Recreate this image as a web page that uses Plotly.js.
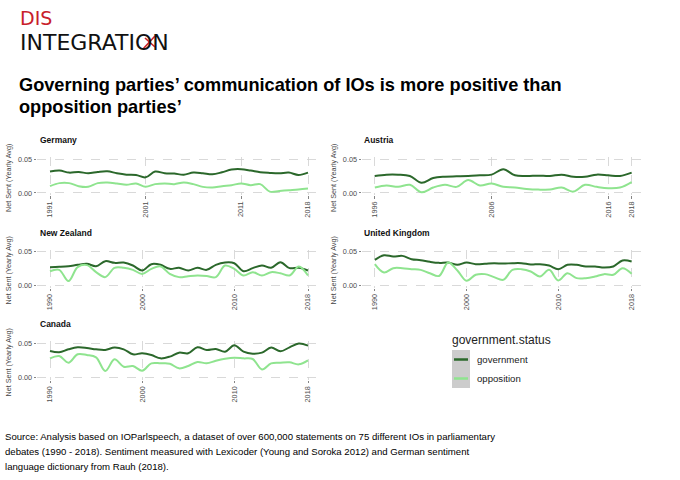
<!DOCTYPE html>
<html>
<head>
<meta charset="utf-8">
<script src="https://cdn.plot.ly/plotly-3.0.1.min.js"></script>
<style>html,body{margin:0;padding:0;background:#fff}#chart{width:680px;height:480px}</style>
</head>
<body>
<div id="chart"></div>
<script>
// ---------- data ----------
const yearsDE = [1991,1992,1993,1994,1995,1996,1997,1998,1999,2000,2001,2002,2003,2004,2005,2006,2007,2008,2009,2010,2011,2012,2013,2014,2015,2016,2017,2018];
const deGov = [0.0315,0.033,0.030,0.031,0.029,0.031,0.032,0.029,0.027,0.0265,0.023,0.0315,0.029,0.0285,0.027,0.030,0.029,0.0275,0.0305,0.0345,0.035,0.033,0.0305,0.0295,0.029,0.030,0.0265,0.030];
const deOpp = [0.010,0.0145,0.0145,0.010,0.009,0.0145,0.0155,0.014,0.012,0.014,0.009,0.013,0.014,0.013,0.0155,0.013,0.009,0.008,0.010,0.0115,0.014,0.0115,0.013,0.002,0.003,0.004,0.005,0.0065];

const yearsAT = [1996,1997,1998,1999,2000,2001,2002,2003,2004,2005,2006,2007,2008,2009,2010,2011,2012,2013,2014,2015,2016,2017,2018];
const atGov = [0.025,0.027,0.027,0.025,0.015,0.022,0.024,0.0245,0.025,0.026,0.027,0.035,0.026,0.025,0.0255,0.025,0.027,0.024,0.024,0.027,0.026,0.025,0.030];
const atOpp = [0.008,0.011,0.009,0.012,0.001,0.008,0.012,0.009,0.019,0.011,0.014,0.009,0.008,0.006,0.005,0.005,0.008,0.002,0.012,0.009,0.007,0.008,0.016];

const years90 = [1990,1991,1992,1993,1994,1995,1996,1997,1998,1999,2000,2001,2002,2003,2004,2005,2006,2007,2008,2009,2010,2011,2012,2013,2014,2015,2016,2017,2018];
const nzGov = [0.027,0.0275,0.0284,0.0304,0.0319,0.0284,0.0358,0.0333,0.0338,0.0294,0.022,0.0314,0.0304,0.0245,0.026,0.022,0.026,0.023,0.0304,0.0338,0.0328,0.021,0.0255,0.0294,0.026,0.0343,0.0255,0.026,0.022];
const nzOpp = [0.021,0.023,0.0064,0.027,0.030,0.0196,0.0123,0.026,0.026,0.023,0.017,0.0245,0.028,0.017,0.0123,0.0137,0.0147,0.014,0.0123,0.0294,0.0245,0.0147,0.0196,0.0147,0.0196,0.018,0.0147,0.028,0.0147];

const ukGov = [0.0377,0.0446,0.0426,0.0436,0.0387,0.0372,0.0348,0.0333,0.0338,0.0304,0.0338,0.0314,0.0319,0.0328,0.0323,0.0328,0.0328,0.0309,0.0314,0.0294,0.024,0.0304,0.0304,0.028,0.028,0.0265,0.028,0.0368,0.0353];
const ukOpp = [0.0314,0.019,0.0255,0.0255,0.024,0.023,0.018,0.014,0.0338,0.022,0.0069,0.0157,0.0167,0.0123,0.0083,0.023,0.024,0.0206,0.0132,0.023,0.0074,0.018,0.0108,0.0108,0.0132,0.0167,0.0157,0.0255,0.0172];

const caGov = [0.0388,0.0369,0.0412,0.0441,0.0432,0.0412,0.0403,0.0437,0.0412,0.034,0.0354,0.033,0.0281,0.0306,0.0364,0.0354,0.0441,0.0403,0.0417,0.0378,0.047,0.0378,0.0349,0.0364,0.0437,0.0383,0.0441,0.0495,0.0466];
const caOpp = [0.0281,0.0315,0.0218,0.034,0.033,0.0296,0.0097,0.0267,0.016,0.017,0.0102,0.0209,0.0209,0.0204,0.0136,0.017,0.0228,0.0209,0.0247,0.0276,0.0291,0.0281,0.0272,0.0121,0.0209,0.0218,0.0223,0.0194,0.0252];

const countries = ['Germany','Austria','New Zealand','United Kingdom','Canada'];
const statusLabels = ['government','opposition'];
const yTickVals = [0, 0.05];
const yTickText = ['0.00','0.05'];
const xTicksDE = [1991,2001,2011,2018];
const xTicksAT = [1996,2006,2016,2018];
const xTicks90 = [1990,2000,2010,2018];
const yTitle = 'Net Sent (Yearly Avg)';
const sourceLines = [
  'Source: Analysis based on IOParlspeech, a dataset of over 600,000 statements on 75 different IOs in parliamentary',
  'debates (1990 - 2018). Sentiment measured with Lexicoder (Young and Soroka 2012) and German sentiment',
  'language dictionary from Rauh (2018).'
];

// ---------- styling ----------
const GOV = '#2b682b', OPP = '#8fe48f', RED = '#c8202b';
const FONT = 'Liberation Sans, Arial, sans-serif';
const W = 680, H = 480;
const px = v => v / W, py = v => 1 - v / H;

const panels = [
  {name: countries[0], x: yearsDE, g: deGov, o: deOpp, ticks: xTicksDE, xr: [1989.65, 2019.35], col: 'L', row: 0},
  {name: countries[1], x: yearsAT, g: atGov, o: atOpp, ticks: xTicksAT, xr: [1994.9, 2019.1], col: 'R', row: 0},
  {name: countries[2], x: years90, g: nzGov, o: nzOpp, ticks: xTicks90, xr: [1988.6, 2019.4], col: 'L', row: 1},
  {name: countries[3], x: years90, g: ukGov, o: ukOpp, ticks: xTicks90, xr: [1988.6, 2019.4], col: 'R', row: 1},
  {name: countries[4], x: years90, g: caGov, o: caOpp, ticks: xTicks90, xr: [1988.6, 2019.4], col: 'L', row: 2},
];
const colDom = {L: [px(37.1), px(320.9)], R: [px(362), px(644.5)]};
const rowPix = [[157, 195], [249.5, 287.5], [341.2, 379.8]];

const data = [];
const layout = {
  width: W, height: H,
  margin: {l: 0, r: 0, t: 0, b: 0},
  paper_bgcolor: '#fff', plot_bgcolor: '#fff',
  showlegend: false,
  font: {family: FONT, color: '#222'},
  annotations: [], shapes: []
};

panels.forEach((p, i) => {
  const k = i === 0 ? '' : String(i + 1);
  const xa = 'x' + k, ya = 'y' + k;
  [[p.g, GOV, statusLabels[0]], [p.o, OPP, statusLabels[1]]].forEach(([vals, c, nm]) => {
    data.push({x: p.x, y: vals, type: 'scatter', mode: 'lines', name: nm,
      line: {color: c, width: 2, shape: 'spline', smoothing: 1},
      xaxis: xa, yaxis: ya, hoverinfo: 'skip'});
  });
  const rp = rowPix[p.row];
  const common = {
    showgrid: true, gridcolor: '#cfcfcf', griddash: 'dash', gridwidth: 0.8,
    zeroline: false, showline: false, ticks: 'outside', ticklen: 2.5, tickwidth: 0.8,
    tickcolor: '#666', tickfont: {family: FONT, size: 7.3, color: '#4d4d4d'}, fixedrange: true
  };
  layout['xaxis' + k] = Object.assign({}, common, {
    domain: colDom[p.col], range: p.xr, anchor: ya,
    tickmode: 'array', tickvals: p.ticks, ticktext: p.ticks.map(String), tickangle: -90
  });
  layout['yaxis' + k] = Object.assign({}, common, {
    domain: [py(rp[1]), py(rp[0])], range: [-0.003, 0.053], anchor: xa,
    tickmode: 'array', tickvals: yTickVals, ticktext: yTickText
  });
  const left = p.col === 'L' ? 38 : 361.7;
  layout.annotations.push({text: '<b>' + p.name + '</b>', xref: 'paper', yref: 'paper',
    x: px(left), y: py(rp[0] - 17), xanchor: 'left', yanchor: 'middle', showarrow: false,
    font: {family: FONT, size: 8.5, color: '#111'}});
  layout.annotations.push({text: yTitle, xref: 'paper', yref: 'paper', textangle: -90,
    x: px(p.col === 'L' ? 8 : 333), y: py((rp[0] + rp[1]) / 2 + 2), xanchor: 'center', yanchor: 'middle',
    showarrow: false, font: {family: FONT, size: 7.2, color: '#444'}});
});

// title
layout.annotations.push({
  text: '<b>Governing parties’ communication of IOs is more positive than</b>',
  xref: 'paper', yref: 'paper', x: px(17), y: py(85), xanchor: 'left', yanchor: 'middle',
  showarrow: false, font: {family: FONT, size: 18.2, color: '#000'}});
layout.annotations.push({
  text: '<b>opposition parties’</b>',
  xref: 'paper', yref: 'paper', x: px(17), y: py(107), xanchor: 'left', yanchor: 'middle',
  showarrow: false, font: {family: FONT, size: 18.2, color: '#000'}});

// logo
layout.annotations.push({text: 'DIS', xref: 'paper', yref: 'paper', x: px(18), y: py(17.6),
  xanchor: 'left', yanchor: 'middle', showarrow: false,
  font: {family: 'DejaVu Sans, sans-serif', size: 19, color: RED}});
layout.annotations.push({text: 'INTEGRATION', xref: 'paper', yref: 'paper', x: px(18), y: py(42.6),
  xanchor: 'left', yanchor: 'middle', showarrow: false,
  font: {family: 'DejaVu Sans, sans-serif', size: 22, color: '#111'}});
layout.shapes.push({type: 'line', xref: 'paper', yref: 'paper', x0: px(143), y0: py(49), x1: px(155), y1: py(36), line: {color: RED, width: 1.6}});
layout.shapes.push({type: 'line', xref: 'paper', yref: 'paper', x0: px(145), y0: py(38), x1: px(155), y1: py(47), line: {color: RED, width: 1.6}});

// legend
layout.annotations.push({text: 'government.status', xref: 'paper', yref: 'paper', x: px(450), y: py(340),
  xanchor: 'left', yanchor: 'middle', showarrow: false, font: {family: FONT, size: 12, color: '#222'}});
layout.shapes.push({type: 'rect', xref: 'paper', yref: 'paper', x0: px(452), x1: px(470), y0: py(388), y1: py(350),
  fillcolor: '#cccccc', line: {width: 0}});
[[GOV, 359.5, statusLabels[0]], [OPP, 378.5, statusLabels[1]]].forEach(([c, yy, t]) => {
  layout.shapes.push({type: 'line', xref: 'paper', yref: 'paper', x0: px(454), x1: px(468), y0: py(yy), y1: py(yy),
    line: {color: c, width: 2.5}});
  layout.annotations.push({text: t, xref: 'paper', yref: 'paper', x: px(475), y: py(yy),
    xanchor: 'left', yanchor: 'middle', showarrow: false, font: {family: FONT, size: 9.6, color: '#222'}});
});

// source (one annotation per line to keep the reference line spacing)
sourceLines.forEach((t, i) => {
  layout.annotations.push({text: t, xref: 'paper', yref: 'paper', x: px(3), y: py(436 + i * 15.3),
    xanchor: 'left', yanchor: 'middle', align: 'left', showarrow: false,
    font: {family: FONT, size: 9.6, color: '#000'}});
});

Plotly.newPlot('chart', data, layout, {staticPlot: true, displayModeBar: false});
</script>
</body>
</html>
